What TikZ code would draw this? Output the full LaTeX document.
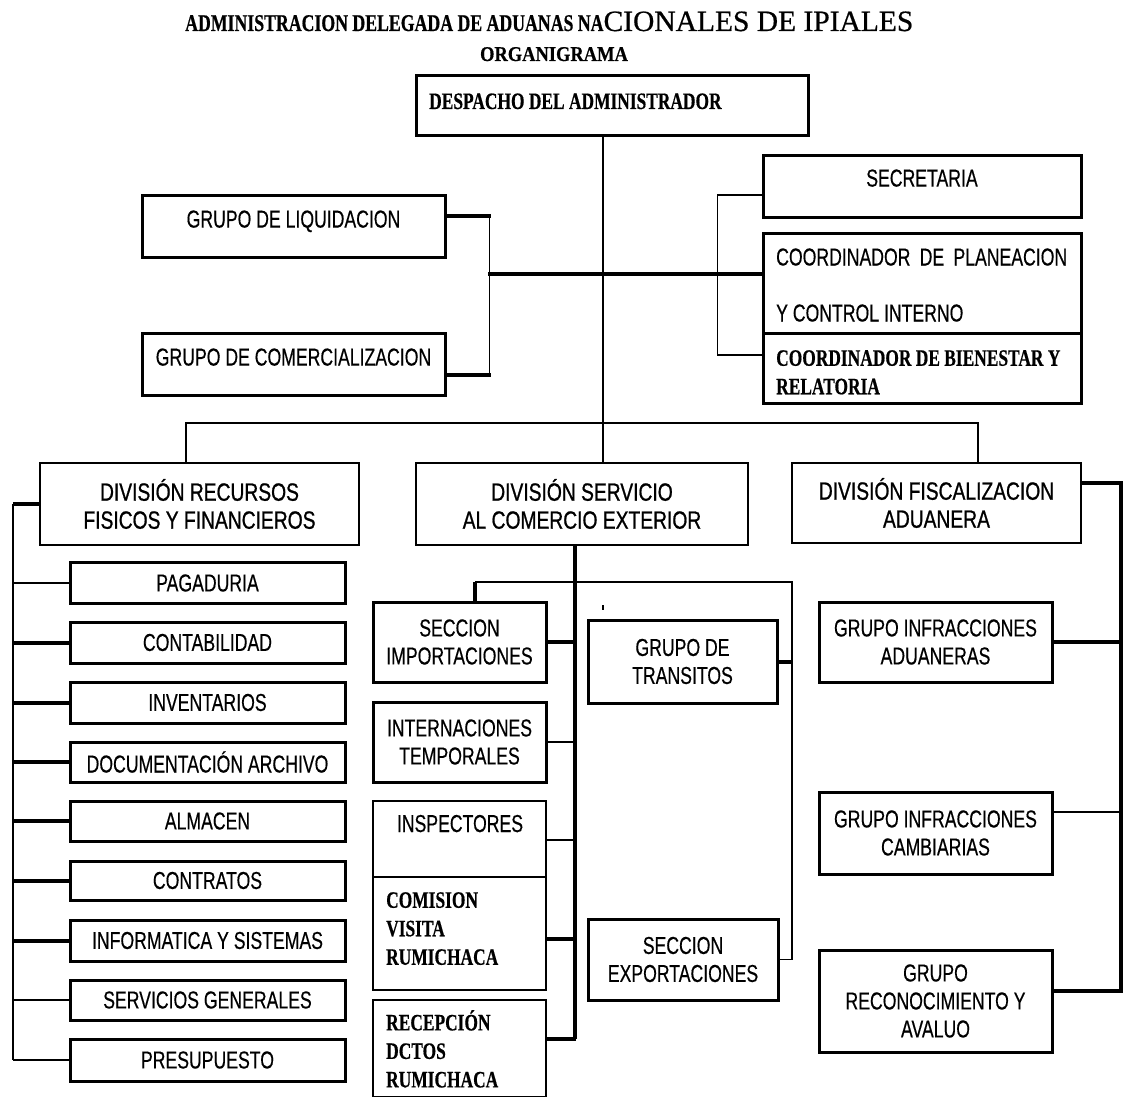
\documentclass[tikz,border=0pt]{standalone}
\usepackage{fontspec}
\setmainfont{Liberation Serif}
\newfontfamily\sfN[FakeStretch=0.72,FakeBold=0.4]{Liberation Sans}
\newfontfamily\sfD[FakeStretch=0.77,FakeBold=0.8]{Liberation Sans}
\newfontfamily\rmC[FakeStretch=0.74,FakeBold=0.5]{Liberation Serif}
\newfontfamily\rmO[FakeStretch=0.88,FakeBold=0.5]{Liberation Serif}
\newfontfamily\rmR[FakeBold=0.6]{Liberation Serif}
\usetikzlibrary{calc}
\tikzset{
 box/.style={draw, line width=3pt, inner sep=0pt, font=\sfN\fontsize{24.5}{28}\selectfont, align=center},
 dbox/.style={box, line width=2.6pt, font=\sfD\fontsize{25}{28}\selectfont},
 thinc/.style={line width=1.6pt},
 thickc/.style={line width=4pt},
 lbl/.style={inner sep=0pt, font=\sfN\fontsize{24.5}{28}\selectfont},
 bsr/.style={inner sep=0pt, font=\rmC\bfseries\fontsize{23.5}{28.5}\selectfont, align=left},
}
\begin{document}
\begin{tikzpicture}[x=1pt,y=-1pt]
\fill[white] (0,0) rectangle (1124,1097);
\useasboundingbox (0,0) rectangle (1124,1097);

% titles
\node[anchor=base west, inner sep=0pt] (title) at (185,31) {{\rmC\bfseries\fontsize{24}{24}\selectfont ADMINISTRACION DELEGADA DE ADUANAS NA}{\rmR\fontsize{29.5}{30}\selectfont CIONALES DE IPIALES}};
\node[anchor=base, inner sep=0pt] (org) at (554,61) {\rmO\bfseries\fontsize{21}{21}\selectfont ORGANIGRAMA};

% top boxes
\node[box, minimum width=392pt, minimum height=60pt] (desp) at (612,106) {};
\node[bsr, anchor=base west] (despT) at (429,109) {DESPACHO DEL ADMINISTRADOR};
\node[box, minimum width=318pt, minimum height=62pt, text depth=16pt] (secr) at (922,186) {SECRETARIA};
\node[box, minimum width=303pt, minimum height=62pt, text depth=14pt] (liq) at (293.5,226) {GRUPO DE LIQUIDACION};
\node[box, minimum width=303pt, minimum height=62pt, text depth=14pt] (com) at (293.5,364) {GRUPO DE COMERCIALIZACION};
\node[box, minimum width=318pt, minimum height=100pt] (plan) at (922,283) {};
\node[lbl, anchor=base west] (planA) at (776,265.5) {\makebox[291pt][s]{COORDINADOR DE PLANEACION}};
\node[lbl, anchor=base west] (planB) at (776,321.5) {Y CONTROL INTERNO};
\node[box, minimum width=318pt, minimum height=70pt] (bien) at (922,368) {};
\node[bsr, anchor=north west] (bienT) at (776,350) {COORDINADOR DE BIENESTAR Y\\RELATORIA};

% divisions
\node[dbox, minimum width=319pt, minimum height=82pt] (div1) at (199.5,504) {DIVISIÓN RECURSOS\\FISICOS Y FINANCIEROS};
\node[dbox, minimum width=332pt, minimum height=82pt] (div2) at (582,504) {DIVISIÓN SERVICIO\\AL COMERCIO EXTERIOR};
\node[dbox, minimum width=289pt, minimum height=80pt] (div3) at (936.5,503) {DIVISIÓN FISCALIZACION\\ADUANERA};

% left column
\node[box, minimum width=275pt, minimum height=41pt] (pag) at (207.5,583) {PAGADURIA};
\node[box, minimum width=275pt, minimum height=41pt] (cont) at (207.5,642.5) {CONTABILIDAD};
\node[box, minimum width=275pt, minimum height=41pt] (inv) at (207.5,702.5) {INVENTARIOS};
\node[box, minimum width=275pt, minimum height=40pt] (doc) at (207.5,762) {DOCUMENTACIÓN ARCHIVO};
\node[box, minimum width=275pt, minimum height=40pt] (alm) at (207.5,821) {ALMACEN};
\node[box, minimum width=275pt, minimum height=39pt] (ctr) at (207.5,880.5) {CONTRATOS};
\node[box, minimum width=275pt, minimum height=41pt] (inf) at (207.5,940.5) {INFORMATICA Y SISTEMAS};
\node[box, minimum width=275pt, minimum height=40pt] (serv) at (207.5,1000) {SERVICIOS GENERALES};
\node[box, minimum width=275pt, minimum height=42pt] (pres) at (207.5,1060) {PRESUPUESTO};

% middle column
\node[box, minimum width=173pt, minimum height=80pt] (imp) at (459.5,642) {SECCION\\IMPORTACIONES};
\node[box, minimum width=189pt, minimum height=83pt] (trans) at (682.5,661.5) {GRUPO DE\\TRANSITOS};
\node[box, minimum width=173pt, minimum height=80pt] (intern) at (459.5,742) {INTERNACIONES\\TEMPORALES};
\node[box, line width=2.4pt, minimum width=173pt, minimum height=189pt] (insp) at (459.5,895.5) {};
\draw[line width=2pt] (373,877) -- (546,877);
\node[lbl, anchor=base] (inspT) at (460,832) {INSPECTORES};
\node[bsr, anchor=north west] (comT) at (386,892) {COMISION\\VISITA\\RUMICHACA};
\node[box, line width=2.4pt, minimum width=173pt, minimum height=97pt] (rec) at (459.5,1048.5) {};
\node[bsr, anchor=north west] (recT) at (386,1010) {RECEPCIÓN\\DCTOS\\RUMICHACA};
\node[box, minimum width=190pt, minimum height=81pt] (exp) at (683,959.5) {SECCION\\EXPORTACIONES};

% right column
\node[box, minimum width=233pt, minimum height=80pt] (adu) at (935.5,642) {GRUPO INFRACCIONES\\ADUANERAS};
\node[box, minimum width=233pt, minimum height=82pt] (camb) at (935.5,833) {GRUPO INFRACCIONES\\CAMBIARIAS};
\node[box, minimum width=233pt, minimum height=102pt] (recon) at (935.5,1001) {GRUPO\\RECONOCIMIENTO Y\\AVALUO};

% junction coordinates
\coordinate (j1) at (603,423);
\coordinate (b1) at (186,423);
\coordinate (b3) at (978,423);
\coordinate (h1) at (488,274);
\coordinate (ls) at (13,504);
\coordinate (ms) at (575,582);
\coordinate (mb1) at (475,582);
\coordinate (mb2) at (792,582);
\coordinate (rs) at (1121,483);

% top connectors
\draw[thinc] (j1 |- desp.south) -- (j1 |- div2.north);
\draw[thinc] (b1 |- div1.north) -- (b1) -- (b3) -- (b3 |- div3.north);
\draw[thickc] (h1) -- (h1 -| plan.west);
\draw[thickc] ($(liq.east)+(0,-10)$) -- ++(44,0);
\draw[thinc] ($(liq.east)+(43,-10)$) -- ($(com.east)+(43,11)$);
\draw[thickc] ($(com.east)+(0,11)$) -- ++(44,0);
\draw[thinc] ($(secr.west)+(0,9)$) -- ++(-44,0) -- ($(bien.west)+(-44,-13)$) -- ($(bien.west)+(0,-13)$);

% left spine
\draw[thickc] (div1.west) -- (ls);
\draw[thinc] (ls) -- (ls |- pres.west);
\draw[thinc] (ls |- pag.west) -- (pag.west);
\draw[thickc] (ls |- cont.west) -- (cont.west);
\draw[thickc] (ls |- inv.west) -- (inv.west);
\draw[thickc] (ls |- doc.west) -- (doc.west);
\draw[thickc] (ls |- alm.west) -- (alm.west);
\draw[thickc] (ls |- ctr.west) -- (ctr.west);
\draw[thickc] (ls |- inf.west) -- (inf.west);
\draw[thinc] (ls |- serv.west) -- (serv.west);
\draw[thinc] (ls |- pres.west) -- (pres.west);

% middle spine
\draw[thickc] (ms |- div2.south) -- ($(ms |- rec.east)+(0,-9.5)$);
\draw[thinc] (mb1) -- (mb2) -- (mb2 |- exp.east) -- (exp.east);
\draw[thickc] (mb1) -- (mb1 |- imp.north);
\draw[thickc] (imp.east) -- (ms |- imp.east);
\draw[thickc] (trans.east) -- (mb2 |- trans.east);
\draw[thinc] (intern.east) -- (ms |- intern.east);
\draw[thinc] ($(insp.east)+(0,-55.5)$) -- ++(29,0);
\draw[thickc] ($(insp.east)+(0,43.5)$) -- ++(29,0);
\draw[thickc] ($(rec.east)+(0,-9.5)$) -- ++(29,0);
\draw[line width=1.2pt] (603,605) -- (603,610);

% right spine
\draw[thickc] ($(div3.east)+(0,-20)$) -- (rs) -- ($(rs |- recon.east)+(0,-10)$) -- ($(recon.east)+(0,-10)$);
\draw[thickc] (adu.east) -- (rs |- adu.east);
\draw[thinc] ($(camb.east)+(0,-21)$) -- ($(rs |- camb.east)+(0,-21)$);
\end{tikzpicture}
\end{document}
